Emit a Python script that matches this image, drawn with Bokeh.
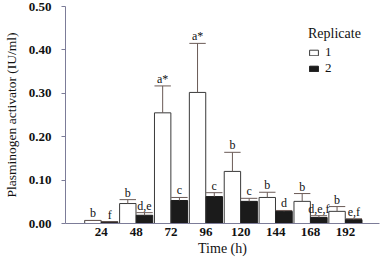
from bokeh.plotting import figure
from bokeh.models import FixedTicker, Legend, LegendItem, Range1d
from bokeh.embed import file_html
from bokeh.resources import INLINE
from bokeh.core.properties import value

# ---- data ----
hours = ["24", "48", "72", "96", "120", "144", "168", "192"]
rep1 = [0.007, 0.046, 0.255, 0.302, 0.120, 0.060, 0.051, 0.028]
rep1_err = [0.000, 0.009, 0.062, 0.113, 0.044, 0.012, 0.018, 0.011]
rep2 = [0.004, 0.019, 0.053, 0.062, 0.051, 0.028, 0.014, 0.009]
rep2_err = [0.000, 0.006, 0.007, 0.009, 0.007, 0.002, 0.004, 0.002]
rep1_letters = ["b", "b", "a*", "a*", "b", "b", "b", "b"]
rep2_letters = ["f", "d,e", "c", "c", "c", "d", "d,e,f", "e,f"]
y_ticks = [0.0, 0.1, 0.2, 0.3, 0.4, 0.5]

FONT = "Liberation Serif"
AXIS_COL = "#7c7c98"
ERR_COL = "#6a5a56"
TXT = "#111111"

pos = list(range(len(hours)))
off = 0.24
w = 0.47
x1 = [i - off for i in pos]
x2 = [i + off for i in pos]
top1 = [v + e for v, e in zip(rep1, rep1_err)]
top2 = [v + e for v, e in zip(rep2, rep2_err)]

p = figure(width=384, height=259, output_backend="svg", toolbar_location=None,
           x_range=Range1d(-1.026, 7.977), y_range=Range1d(0, 0.5),
           min_border_left=63, min_border_right=5, min_border_top=6,
           min_border_bottom=36)
p.outline_line_color = None
p.xgrid.grid_line_color = None
p.ygrid.grid_line_color = None

r1 = p.vbar(x=x1, top=rep1, width=w, bottom=0, fill_color="white",
            line_color="#3a3a3a", line_width=1)
r2 = p.vbar(x=x2, top=rep2, width=w, bottom=0, fill_color="#1b1b1b",
            line_color="#1b1b1b", line_width=1)

# error bars (upward only) with caps
p.segment(x0=x1, y0=rep1, x1=x1, y1=top1, line_color=ERR_COL, line_width=1)
p.segment(x0=x2, y0=rep2, x1=x2, y1=top2, line_color=ERR_COL, line_width=1)
p.segment(x0=[x - w / 2 for x in x1], y0=top1, x1=[x + w / 2 for x in x1], y1=top1,
          line_color=ERR_COL, line_width=1)
p.segment(x0=[x - w / 2 for x in x2], y0=top2, x1=[x + w / 2 for x in x2], y1=top2,
          line_color=ERR_COL, line_width=1)

# significance letters
p.text(x=x1, y=top1, text=rep1_letters, text_align="center", text_baseline="bottom",
       y_offset=0, text_font=value(FONT), text_font_size="12px", color=TXT)
p.text(x=x2, y=top2, text=rep2_letters, text_align="center", text_baseline="bottom",
       y_offset=0, text_font=value(FONT), text_font_size="12px", color=TXT)

# axes
p.xaxis.ticker = FixedTicker(ticks=pos)
p.xaxis.major_label_overrides = {i: h for i, h in zip(pos, hours)}
p.xaxis.major_tick_out = 0
p.xaxis.major_tick_in = 0
p.xaxis.minor_tick_out = 0
p.xaxis.minor_tick_in = 0
p.xaxis.axis_line_color = AXIS_COL
p.xaxis.major_label_standoff = 4
p.xaxis.major_label_text_font = FONT
p.xaxis.major_label_text_font_size = "13px"
p.xaxis.major_label_text_font_style = "bold"
p.xaxis.major_label_text_color = TXT
p.xaxis.axis_label = "Time (h)"
p.xaxis.axis_label_standoff = 2
p.xaxis.axis_label_text_font = FONT
p.xaxis.axis_label_text_font_size = "14px"
p.xaxis.axis_label_text_font_style = "normal"
p.xaxis.axis_label_text_color = TXT

p.yaxis.ticker = FixedTicker(ticks=y_ticks)
p.yaxis.major_label_overrides = {t: f"{t:.2f}" for t in y_ticks}
p.yaxis.major_tick_out = 4
p.yaxis.major_tick_in = 0
p.yaxis.minor_tick_out = 0
p.yaxis.minor_tick_in = 0
p.yaxis.axis_line_color = AXIS_COL
p.yaxis.major_tick_line_color = AXIS_COL
p.yaxis.major_label_standoff = 10
p.yaxis.major_label_text_font = FONT
p.yaxis.major_label_text_font_size = "13px"
p.yaxis.major_label_text_font_style = "bold"
p.yaxis.major_label_text_color = TXT
p.yaxis.axis_label = "Plasminogen activator (IU/ml)"
p.yaxis.axis_label_standoff = 7
p.yaxis.axis_label_text_font = FONT
p.yaxis.axis_label_text_font_size = "13.5px"
p.yaxis.axis_label_text_font_style = "normal"
p.yaxis.axis_label_text_color = TXT

legend = Legend(items=[LegendItem(label="1", renderers=[r1]),
                       LegendItem(label="2", renderers=[r2])],
                title="Replicate", location=(243, 147),
                border_line_color=None, background_fill_alpha=0,
                padding=0, margin=0, glyph_width=11, glyph_height=7,
                label_standoff=6, spacing=0, label_height=11,
                label_text_line_height=0.85,
                label_text_font=FONT, label_text_font_size="13px",
                label_text_color=TXT,
                title_text_font=FONT, title_text_font_size="14px",
                title_text_font_style="normal", title_text_color=TXT,
                title_standoff=2)
p.add_layout(legend)

open("out.html", "w").write(file_html(p, INLINE))
